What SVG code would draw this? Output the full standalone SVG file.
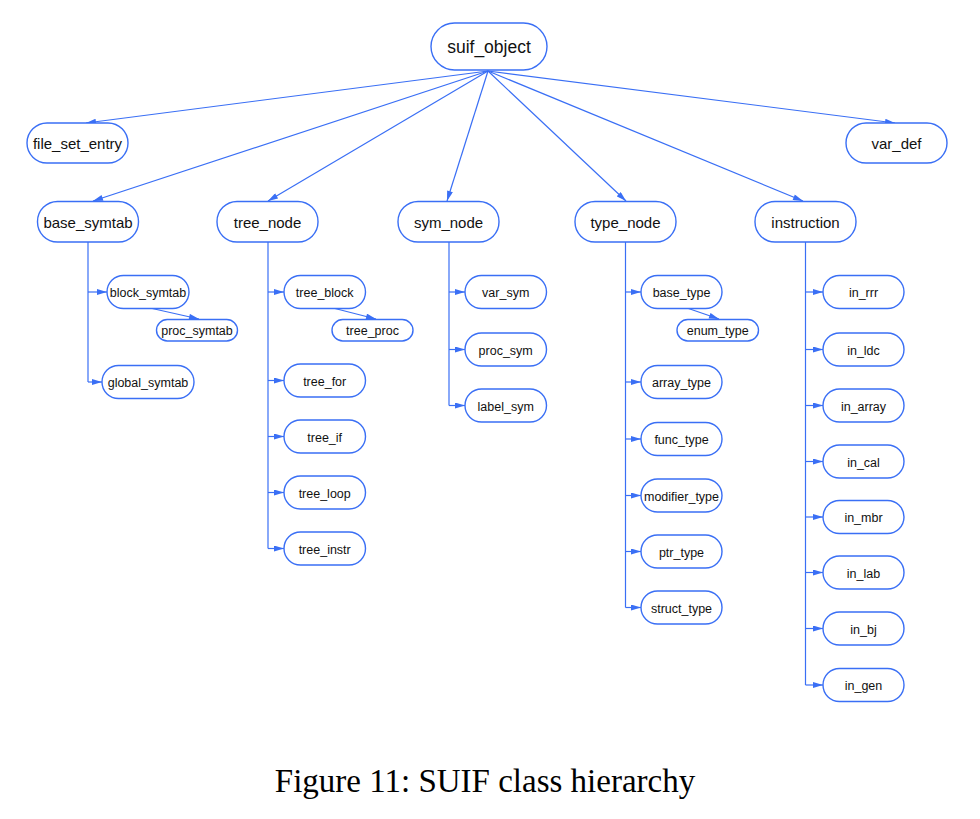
<svg xmlns="http://www.w3.org/2000/svg" width="980" height="819" viewBox="0 0 980 819">
<style>
.n rect{fill:#fff;stroke:#3a6ff5;stroke-width:1.4}
.n text{font-family:"Liberation Sans",Arial,sans-serif;fill:#111;text-anchor:middle}
.t text{font-size:15px}
.c text{font-size:12.5px}
.e{fill:none;stroke:#3a6ff5;stroke-width:1.2}
.cap{font-family:"Liberation Serif","Times New Roman",serif;font-size:33px;fill:#000;text-anchor:middle}
</style>
<defs>
<marker id="a" viewBox="0 0 10 6" refX="10" refY="3" markerWidth="11" markerHeight="6" markerUnits="userSpaceOnUse" orient="auto">
<path d="M0,0 L10,3 L0,6 z" fill="#3a6ff5"/>
</marker>
</defs>
<g id="connectors">
<path class="e" marker-end="url(#a)" d="M488,71 L86,123"/>
<path class="e" marker-end="url(#a)" d="M488,71 L93,201"/>
<path class="e" marker-end="url(#a)" d="M488,71 L268,201"/>
<path class="e" marker-end="url(#a)" d="M488,71 L447,201"/>
<path class="e" marker-end="url(#a)" d="M488,71 L626,201"/>
<path class="e" marker-end="url(#a)" d="M488,71 L803,201"/>
<path class="e" marker-end="url(#a)" d="M488,71 L895,123"/>
<path class="e" d="M88,242 V382"/>
<path class="e" marker-end="url(#a)" d="M88,292 H107"/>
<path class="e" marker-end="url(#a)" d="M88,382 H102"/>
<path class="e" marker-end="url(#a)" d="M150,308 L199,319"/>
<path class="e" d="M268,242 V548.5"/>
<path class="e" marker-end="url(#a)" d="M268,292 H284"/>
<path class="e" marker-end="url(#a)" d="M268,380.5 H284"/>
<path class="e" marker-end="url(#a)" d="M268,436.5 H284"/>
<path class="e" marker-end="url(#a)" d="M268,492.5 H284"/>
<path class="e" marker-end="url(#a)" d="M268,548.5 H284"/>
<path class="e" marker-end="url(#a)" d="M333,308 L376,319"/>
<path class="e" d="M449,242 V405.5"/>
<path class="e" marker-end="url(#a)" d="M449,292 H465"/>
<path class="e" marker-end="url(#a)" d="M449,349.5 H465"/>
<path class="e" marker-end="url(#a)" d="M449,405.5 H465"/>
<path class="e" d="M625.5,242 V607.5"/>
<path class="e" marker-end="url(#a)" d="M625.5,292 H641"/>
<path class="e" marker-end="url(#a)" d="M625.5,382 H641"/>
<path class="e" marker-end="url(#a)" d="M625.5,439 H641"/>
<path class="e" marker-end="url(#a)" d="M625.5,495.5 H641"/>
<path class="e" marker-end="url(#a)" d="M625.5,551.5 H641"/>
<path class="e" marker-end="url(#a)" d="M625.5,607.5 H641"/>
<path class="e" marker-end="url(#a)" d="M687,308 L719,319"/>
<path class="e" d="M805.5,242 V685"/>
<path class="e" marker-end="url(#a)" d="M805.5,292 H823"/>
<path class="e" marker-end="url(#a)" d="M805.5,349.5 H823"/>
<path class="e" marker-end="url(#a)" d="M805.5,405.5 H823"/>
<path class="e" marker-end="url(#a)" d="M805.5,461.5 H823"/>
<path class="e" marker-end="url(#a)" d="M805.5,517 H823"/>
<path class="e" marker-end="url(#a)" d="M805.5,572.5 H823"/>
<path class="e" marker-end="url(#a)" d="M805.5,628.5 H823"/>
<path class="e" marker-end="url(#a)" d="M805.5,685 H823"/>
</g>
<g id="suif_object" class="n"><rect x="431" y="23" width="116" height="47" rx="23.5"/><text x="489" y="53.3" style="font-size:17.5px">suif_object</text></g>
<g id="file_set_entry" class="n t"><rect x="27" y="123" width="101" height="40" rx="20"/><text x="77.5" y="149">file_set_entry</text></g>
<g id="var_def" class="n t"><rect x="846" y="123" width="101" height="40" rx="20"/><text x="896.5" y="149">var_def</text></g>
<g id="base_symtab" class="n t"><rect x="37.5" y="201.5" width="101" height="40.5" rx="20"/><text x="88" y="228.3">base_symtab</text></g>
<g id="tree_node" class="n t"><rect x="217" y="201.5" width="101" height="40.5" rx="20"/><text x="267.5" y="228.3">tree_node</text></g>
<g id="sym_node" class="n t"><rect x="398" y="201.5" width="101" height="40.5" rx="20"/><text x="448.5" y="228.3">sym_node</text></g>
<g id="type_node" class="n t"><rect x="575" y="201.5" width="101" height="40.5" rx="20"/><text x="625.5" y="228.3">type_node</text></g>
<g id="instruction" class="n t"><rect x="755" y="201.5" width="101" height="40.5" rx="20"/><text x="805.5" y="228.3">instruction</text></g>
<g id="block_symtab" class="n c"><rect x="107" y="275.5" width="82" height="33" rx="16.5"/><text x="148" y="297.2">block_symtab</text></g>
<g id="proc_symtab" class="n c"><rect x="156.5" y="319.5" width="81" height="21.5" rx="10.75"/><text x="197" y="335.2">proc_symtab</text></g>
<g id="global_symtab" class="n c"><rect x="102" y="365.5" width="92" height="33" rx="16.5"/><text x="148" y="387.2">global_symtab</text></g>
<g id="tree_block" class="n c"><rect x="284" y="275.5" width="81.5" height="33" rx="16.5"/><text x="324.7" y="297.2">tree_block</text></g>
<g id="tree_proc" class="n c"><rect x="332" y="319.5" width="81" height="21.5" rx="10.75"/><text x="372.5" y="335.2">tree_proc</text></g>
<g id="tree_for" class="n c"><rect x="284" y="364" width="81.5" height="33" rx="16.5"/><text x="324.7" y="385.7">tree_for</text></g>
<g id="tree_if" class="n c"><rect x="284" y="420" width="81.5" height="33" rx="16.5"/><text x="324.7" y="441.7">tree_if</text></g>
<g id="tree_loop" class="n c"><rect x="284" y="476" width="81.5" height="33" rx="16.5"/><text x="324.7" y="497.7">tree_loop</text></g>
<g id="tree_instr" class="n c"><rect x="284" y="532" width="81.5" height="33" rx="16.5"/><text x="324.7" y="553.7">tree_instr</text></g>
<g id="var_sym" class="n c"><rect x="465" y="275.5" width="81.5" height="33" rx="16.5"/><text x="505.7" y="297.2">var_sym</text></g>
<g id="proc_sym" class="n c"><rect x="465" y="333" width="81.5" height="33" rx="16.5"/><text x="505.7" y="354.7">proc_sym</text></g>
<g id="label_sym" class="n c"><rect x="465" y="389" width="81.5" height="33" rx="16.5"/><text x="505.7" y="410.7">label_sym</text></g>
<g id="base_type" class="n c"><rect x="641" y="275.5" width="81" height="33" rx="16.5"/><text x="681.5" y="297.2">base_type</text></g>
<g id="enum_type" class="n c"><rect x="677" y="319.5" width="81.5" height="21.5" rx="10.75"/><text x="717.7" y="335.2">enum_type</text></g>
<g id="array_type" class="n c"><rect x="641" y="365.5" width="81" height="33" rx="16.5"/><text x="681.5" y="387.2">array_type</text></g>
<g id="func_type" class="n c"><rect x="641" y="422.5" width="81" height="33" rx="16.5"/><text x="681.5" y="444.2">func_type</text></g>
<g id="modifier_type" class="n c"><rect x="641" y="479" width="81" height="33" rx="16.5"/><text x="681.5" y="500.7">modifier_type</text></g>
<g id="ptr_type" class="n c"><rect x="641" y="535" width="81" height="33" rx="16.5"/><text x="681.5" y="556.7">ptr_type</text></g>
<g id="struct_type" class="n c"><rect x="641" y="591" width="81" height="33" rx="16.5"/><text x="681.5" y="612.7">struct_type</text></g>
<g id="in_rrr" class="n c"><rect x="823" y="275.5" width="81" height="33" rx="16.5"/><text x="863.5" y="297.2">in_rrr</text></g>
<g id="in_ldc" class="n c"><rect x="823" y="333" width="81" height="33" rx="16.5"/><text x="863.5" y="354.7">in_ldc</text></g>
<g id="in_array" class="n c"><rect x="823" y="389" width="81" height="33" rx="16.5"/><text x="863.5" y="410.7">in_array</text></g>
<g id="in_cal" class="n c"><rect x="823" y="445" width="81" height="33" rx="16.5"/><text x="863.5" y="466.7">in_cal</text></g>
<g id="in_mbr" class="n c"><rect x="823" y="500.5" width="81" height="33" rx="16.5"/><text x="863.5" y="522.2">in_mbr</text></g>
<g id="in_lab" class="n c"><rect x="823" y="556" width="81" height="33" rx="16.5"/><text x="863.5" y="577.7">in_lab</text></g>
<g id="in_bj" class="n c"><rect x="823" y="612" width="81" height="33" rx="16.5"/><text x="863.5" y="633.7">in_bj</text></g>
<g id="in_gen" class="n c"><rect x="823" y="668.5" width="81" height="33" rx="16.5"/><text x="863.5" y="690.2">in_gen</text></g>
<text class="cap" x="485" y="791.5">Figure 11: SUIF class hierarchy</text>
</svg>
